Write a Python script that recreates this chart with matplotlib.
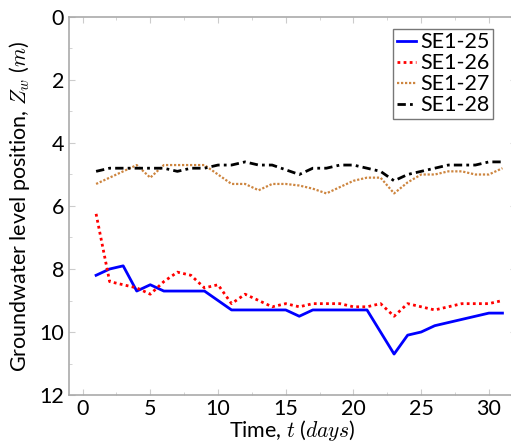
import numpy as np
import matplotlib
matplotlib.use('Agg')
import matplotlib.pyplot as plt

plt.rcParams['font.family'] = ['Lato', 'DejaVu Sans']
plt.rcParams['mathtext.fontset'] = 'cm'

days = list(range(1, 32))

se1_25 = [8.2, 8.0, 7.9, 8.7, 8.5, 8.7, 8.7, 8.7, 8.7, 9.0,
          9.3, 9.3, 9.3, 9.3, 9.3, 9.5, 9.3, 9.3, 9.3, 9.3,
          9.3, 10.0, 10.7, 10.1, 10.0, 9.8, 9.7, 9.6, 9.5, 9.4, 9.4]
se1_26 = [6.25, 8.4, 8.5, 8.6, 8.8, 8.4, 8.1, 8.2, 8.6, 8.5,
          9.1, 8.8, 9.0, 9.2, 9.1, 9.2, 9.1, 9.1, 9.1, 9.2,
          9.2, 9.1, 9.5, 9.1, 9.2, 9.3, 9.2, 9.1, 9.1, 9.1, 9.0]
se1_27 = [5.3, 5.1, 4.9, 4.7, 5.1, 4.7, 4.7, 4.7, 4.7, 5.0,
          5.3, 5.3, 5.5, 5.3, 5.3, 5.35, 5.45, 5.6, 5.4, 5.2,
          5.1, 5.1, 5.6, 5.25, 5.0, 5.0, 4.9, 4.9, 5.0, 5.0, 4.8]
se1_28 = [4.9, 4.8, 4.8, 4.8, 4.8, 4.8, 4.9, 4.8, 4.8, 4.7,
          4.7, 4.6, 4.7, 4.7, 4.85, 5.0, 4.8, 4.8, 4.7, 4.7,
          4.8, 4.9, 5.2, 5.0, 4.9, 4.8, 4.7, 4.7, 4.7, 4.6, 4.6]

labels = ['SE1-25', 'SE1-26', 'SE1-27', 'SE1-28']

fig = plt.figure(figsize=(5.11, 4.44), dpi=100)
ax = fig.add_axes([69/511, 49/444, 447/511, 378/444])

ax.plot(days, se1_25, color='#0000ff', lw=2.0, ls='-', label=labels[0])
ax.plot(days, se1_26, color='#ff0000', lw=2.0, ls=(0, (1, 1.2)), label=labels[1])
ax.plot(days, se1_27, color='#cd853f', lw=1.6, ls=(0, (1, 0.8)), label=labels[2])
ax.plot(days, se1_28, color='black', lw=2.0, ls=(0, (3, 1.5, 1, 1.5)), label=labels[3])

ax.set_xticks([0, 5, 10, 15, 20, 25, 30])
ax.set_xticks(np.arange(0, 32, 2.5), minor=True)
ax.set_yticks([0, 2, 4, 6, 8, 10, 12])
ax.set_yticks(np.arange(0, 13, 1), minor=True)
ax.set_xlim(-1, 32)
ax.set_ylim(12, 0)

for s in ax.spines.values():
    s.set_color('#aaaaaa')
    s.set_linewidth(1.2)
ax.tick_params(which='both', direction='in', colors='#cccccc', labelcolor='black',
               top=True, right=True, labelsize=15.5)
ax.tick_params(which='major', length=4)
ax.tick_params(which='minor', length=2.5)
ax.tick_params(axis='x', pad=3)

ax.set_xlabel('Time, $t$ ($days$)', fontsize=15.5, labelpad=-1)
ax.set_ylabel('Groundwater level position, $Z_w$ ($m$)', fontsize=15.5, labelpad=5)

leg = ax.legend(loc='upper right', bbox_to_anchor=(493/511, 1 - 29/444),
                bbox_transform=fig.transFigure, borderaxespad=0,
                fontsize=15.5, handlelength=0.9, handletextpad=0.2,
                labelspacing=0.05, borderpad=0.15, fancybox=False)
leg.get_frame().set_edgecolor('#555555')
leg.get_frame().set_linewidth(1.0)

fig.savefig('out.png', dpi=100)
